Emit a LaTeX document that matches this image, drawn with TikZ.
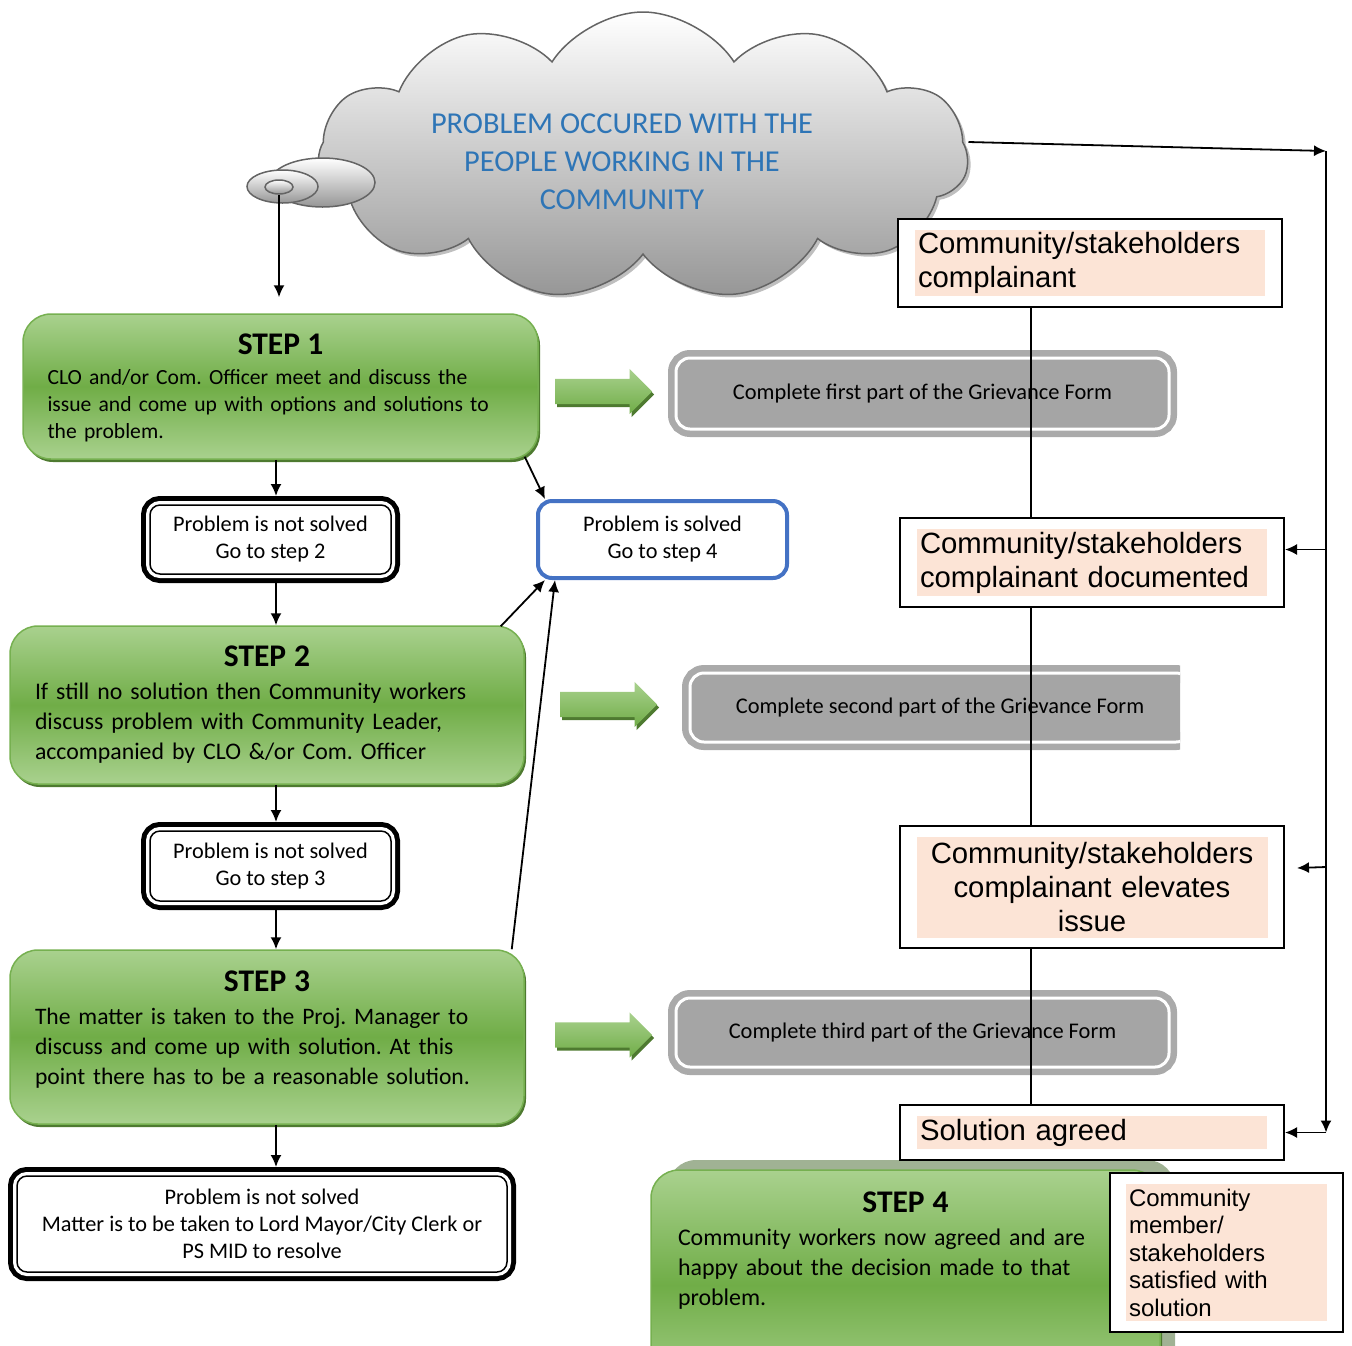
\documentclass[tikz,border=0pt]{standalone}
\usepackage{fontspec}
\setmainfont{Carlito}
\newfontfamily\arialfont{Liberation Sans}
\usetikzlibrary{arrows.meta, calc, shapes.symbols, shapes.arrows, shapes.geometric, shadows}
\definecolor{stepgreen}{RGB}{112,173,71}
\definecolor{steplight}{RGB}{169,209,142}
\definecolor{stepedge}{RGB}{118,176,80}
\definecolor{stepshadow}{RGB}{78,122,48}
\definecolor{stepback}{RGB}{160,178,148}
\definecolor{formgrey}{RGB}{165,165,165}
\definecolor{formring}{RGB}{170,170,170}
\definecolor{solvedblue}{RGB}{68,114,196}
\definecolor{cloudblue}{RGB}{46,117,182}
\definecolor{cloudgrey}{RGB}{150,150,150}
\definecolor{cloudedge}{RGB}{100,100,100}
\definecolor{notepink}{RGB}{252,228,214}
\frenchspacing
\newcommand{\steptitle}[1]{{\centering\bfseries\fontsize{31.5}{34}\selectfont #1\par}\vspace{3pt}}

\tikzset{
	flow/.style={line width=1.8pt, -{Latex[length=12pt,width=11pt]}},
	stepbox/.style={rounded corners=28pt, draw=stepedge, line width=1.5pt, top color=steplight, bottom color=steplight, middle color=stepgreen, drop shadow={fill=stepshadow, opacity=1, shadow xshift=2pt, shadow yshift=-3pt}},
	steptext/.style={anchor=north, inner sep=0pt, align=left, text width=#1},
	notbox/.style={rounded corners=10pt, draw=black, line width=1.5pt, fill=white, outer sep=9pt, preaction={draw=black, line width=18pt}, preaction={draw=white, line width=8pt}, align=center, inner sep=0pt, font=\fontsize{22.3}{27}\selectfont},
	solvedbox/.style={rounded corners=14pt, draw=solvedblue, line width=4pt, fill=white, outer sep=2pt, align=center, inner sep=0pt, font=\fontsize{22.3}{27}\selectfont},
	formbox/.style={rounded corners=14pt, fill=formgrey, draw=white, line width=3pt, preaction={draw=formring, line width=16pt}, inner sep=0pt, font=\fontsize{22.4}{26}\selectfont},
	greenarrow/.style={single arrow, single arrow head extend=10pt, minimum width=45pt, minimum height=97pt, inner xsep=0pt, inner ysep=12.5pt, anchor=west, draw=none, top color=steplight, bottom color=stepgreen, drop shadow={fill=stepshadow, opacity=1, shadow xshift=2pt, shadow yshift=-3pt}},
	outerbox/.style={draw=black, line width=2pt, fill=white, inner sep=0pt},
	notebox/.style={fill=notepink, inner xsep=3pt, inner ysep=0pt, align=left, font=\arialfont\fontsize{29.3}{34}\selectfont},
	bubble/.style={ellipse, draw=cloudedge, line width=1.5pt, top color=white, bottom color=cloudgrey, inner sep=0pt},
}

\begin{document}
\begin{tikzpicture}[x=1pt, y=-1pt]
	\useasboundingbox (0,0) rectangle (1352,1345);
	\clip (0,0) rectangle (1352,1345);

	% cloud
	\node[cloud, cloud puffs=11, cloud puff arc=115, aspect=2.2, minimum width=650pt, minimum height=288pt, inner sep=0pt, draw=cloudedge, line width=1.5pt, top color=white, bottom color=cloudgrey, drop shadow={fill=black!25, opacity=1, shadow xshift=3pt, shadow yshift=-3pt}] (cloud) at (643,156) {};
	\node[bubble, minimum width=105pt, minimum height=49pt] (bub1) at (322.5,182.5) {};
	\node[bubble, minimum width=71pt, minimum height=33pt] (bub2) at (282.5,186.5) {};
	\node[bubble, minimum width=28pt, minimum height=14pt] (bub3) at (279,187) {};
	\node[align=center, text=cloudblue, font=\fontsize{30.4}{38}\selectfont] (cloudtxt) at (622,162) {PROBLEM OCCURED WITH THE\\PEOPLE WORKING IN THE\\COMMUNITY};

	% steps
	\node[stepbox, minimum width=515pt, minimum height=145pt] (s1) at (280.5,386.5) {};
	\node[steptext=466pt, font=\fontsize{21.6}{27}\selectfont] (s1t) at ($(s1.north)+(0,20)$) {\steptitle{STEP 1}CLO and/or Com. Officer meet and discuss the\\issue and come up with options and solutions to\\the problem.};
	\node[stepbox, minimum width=514pt, minimum height=158pt] (s2) at (267,705) {};
	\node[steptext=464pt, font=\fontsize{23.8}{30}\selectfont] (s2t) at ($(s2.north)+(0,20)$) {\steptitle{STEP 2}If still no solution then Community workers\\discuss problem with Community Leader,\\accompanied by CLO \&/or Com. Officer};
	\node[stepbox, minimum width=514pt, minimum height=174pt] (s3) at (267,1037) {};
	\node[steptext=464pt, font=\fontsize{23.6}{30}\selectfont] (s3t) at ($(s3.north)+(0,21)$) {\steptitle{STEP 3}The matter is taken to the Proj. Manager to\\discuss and come up with solution. At this\\point there has to be a reasonable solution.};

	% not solved boxes
	\node[notbox, minimum width=241pt, minimum height=69pt] (n1) at (270.5,539.5) {Problem is not solved\\Go to step 2};
	\node[notbox, minimum width=241pt, minimum height=70pt] (n2) at (270.5,866) {Problem is not solved\\Go to step 3};
	\node[notbox, minimum width=490pt, minimum height=96pt] (n3) at (262,1224) {Problem is not solved\\Matter is to be taken to Lord Mayor/City Clerk or\\PS MID to resolve};
	\node[solvedbox, minimum width=249pt, minimum height=77pt] (solved) at (662.5,539.5) {Problem is solved\\Go to step 4};

	\coordinate (axis) at (276,0);
	\draw[flow] (bub3.south) -- ($(bub3.south |- s1.north)+(0,-16)$);
	\draw[flow] (s1.south -| axis) -- (n1.north -| axis);
	\draw[flow] (n1.south -| axis) -- (s2.north -| axis);
	\draw[flow] (s2.south -| axis) -- (n2.north -| axis);
	\draw[flow] (n2.south -| axis) -- (s3.north -| axis);
	\draw[flow] (s3.south -| axis) -- (n3.north -| axis);
	\draw[flow] ($(s1.south east)+(-14,-3)$) -- ($(solved.north west)+(9,0)$);
	\draw[flow] ($(s2.north east)+(-24,1)$) -- ($(solved.south west)+(9,0)$);
	\draw[flow] ($(s3.north east)+(-13,0)$) -- ($(solved.south west)+(19,0)$);

	% grievance form
	\node[greenarrow] (a1) at (555,391.5) {};
	\node[greenarrow] (a2) at (560,704.5) {};
	\node[greenarrow] (a3) at (555,1035) {};
	\node[formbox, minimum width=493pt, minimum height=71pt] (g1) at (922.5,393.5) {Complete first part of the Grievance Form};
	\begin{scope}
		\clip (0,0) rectangle (1180,1345);
		\node[formbox, minimum width=500pt, minimum height=69pt] (g2) at (940,707.5) {Complete second part of the Grievance Form};
	\end{scope}
	\node[formbox, minimum width=493pt, minimum height=69pt] (g3) at (922.5,1032.5) {Complete third part of the Grievance Form};

	% step 4
	\node[rounded corners=28pt, fill=stepback, minimum width=507pt, minimum height=240pt] (s4back) at (921.5,1280) {};
	\node[stepbox, minimum width=509pt, minimum height=230pt] (s4) at (905.5,1285) {};
	\node[steptext=455pt, font=\fontsize{23.9}{30}\selectfont] (s4t) at ($(s4.north)+(0,22)$) {\steptitle{STEP 4}Community workers now agreed and are\\happy about the decision made to that\\problem.};

	% complainant column
	\node[outerbox, minimum width=384pt, minimum height=88pt] (bA) at (1090,263) {};
	\node[notebox, minimum width=350pt, minimum height=66pt, text width=344pt] (pA) at (bA) {Community/stakeholders\\complainant};
	\node[outerbox, minimum width=384pt, minimum height=89pt] (bB) at (1092,562.5) {};
	\node[notebox, minimum width=350pt, minimum height=67pt, text width=344pt] (pB) at (bB) {Community/stakeholders\\complainant documented};
	\node[outerbox, minimum width=384pt, minimum height=122pt] (bC) at (1092,887) {};
	\node[notebox, minimum width=351pt, minimum height=101pt, text width=345pt, align=center] (pC) at (bC) {Community/stakeholders\\complainant elevates\\issue};
	\node[outerbox, minimum width=384pt, minimum height=55pt] (bD) at (1092,1132.5) {};
	\node[notebox, minimum width=350pt, minimum height=33pt, text width=344pt] (pD) at (bD) {Solution agreed};
	\node[outerbox, minimum width=233pt, minimum height=159pt] (bE) at (1226.5,1252.5) {};
	\node[notebox, minimum width=201pt, minimum height=137pt, text width=195pt, font=\arialfont\fontsize{24}{27.5}\selectfont] (pE) at (bE) {Community\\member/\\stakeholders\\satisfied with\\solution};

	\coordinate (lx) at (1031,0);
	\coordinate (tr) at (1326,151);
	\draw[line width=2pt] (bA.south -| lx) -- (bB.north -| lx);
	\draw[line width=2pt] (bB.south -| lx) -- (bC.north -| lx);
	\draw[line width=2pt] (bC.south -| lx) -- (bD.north -| lx);
	\draw[flow] ($(cloud.east)+(0,-14)$) -- (tr);
	\draw[flow] (tr) -- (tr |- bD.east);
	\draw[flow] (tr |- bD.east) -- (bD.east);
	\draw[flow] ($(tr |- bB.east)+(0,-13)$) -- ($(bB.east)+(0,-13)$);
	\draw[flow] ($(tr |- bC.east)+(0,-20)$) -- ($(bC.east)+(12,-19)$);
\end{tikzpicture}
\end{document}
